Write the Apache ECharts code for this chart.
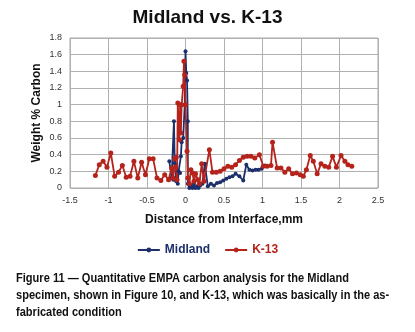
<!DOCTYPE html>
<html><head><meta charset="utf-8">
<script src="https://cdn.jsdelivr.net/npm/echarts@6/dist/echarts.min.js"></script>
<style>html,body{margin:0;padding:0;background:#fff}#c{width:415px;height:332px}</style>
</head><body><div id="c"></div>
<script>
var titleText = 'Midland vs. K-13';
var xTicks = [-1.5, 2.5, 0.5];
var yTicks = [0, 1.8, 0.2];
var midland = [[-0.21,0.32],[-0.18,0.12],[-0.16,0.1],[-0.15,0.8],[-0.14,0.3],[-0.12,0.08],[-0.1,0.05],[-0.09,0.2],[-0.07,0.18],[-0.06,0.38],[-0.05,0.55],[-0.03,0.6],[-0.01,1.0],[0.0,1.64],[0.01,1.38],[0.02,1.29],[0.03,0.8],[0.03,0.05],[0.05,0.0],[0.07,0.03],[0.09,0.0],[0.11,0.05],[0.13,0.0],[0.15,0.02],[0.17,0.0],[0.19,0.03],[0.22,0.05],[0.25,0.29],[0.29,0.02],[0.33,0.05],[0.37,0.03],[0.41,0.06],[0.45,0.07],[0.49,0.09],[0.53,0.11],[0.57,0.13],[0.61,0.14],[0.65,0.17],[0.7,0.14],[0.75,0.09],[0.79,0.28],[0.83,0.22],[0.87,0.21],[0.91,0.22],[0.95,0.22],[0.99,0.23],[1.03,0.27]];
var k13 = [[-1.17,0.15],[-1.12,0.28],[-1.07,0.32],[-1.02,0.25],[-0.97,0.42],[-0.92,0.14],[-0.87,0.19],[-0.82,0.27],[-0.77,0.13],[-0.72,0.14],[-0.67,0.32],[-0.62,0.12],[-0.57,0.31],[-0.52,0.16],[-0.47,0.35],[-0.42,0.35],[-0.37,0.12],[-0.32,0.09],[-0.27,0.16],[-0.22,0.1],[-0.18,0.24],[-0.16,0.12],[-0.14,0.35],[-0.12,0.37],[-0.11,0.1],[-0.1,1.02],[-0.08,0.58],[-0.07,1.0],[-0.06,0.66],[-0.05,1.0],[-0.03,1.22],[-0.02,1.52],[-0.01,1.36],[0.0,1.0],[0.02,0.44],[0.03,0.12],[0.05,0.05],[0.07,0.22],[0.09,0.18],[0.11,0.08],[0.13,0.17],[0.16,0.1],[0.18,0.05],[0.21,0.29],[0.24,0.08],[0.31,0.46],[0.35,0.19],[0.4,0.19],[0.45,0.2],[0.5,0.23],[0.55,0.26],[0.6,0.25],[0.65,0.28],[0.7,0.33],[0.75,0.37],[0.8,0.38],[0.85,0.38],[0.9,0.36],[0.96,0.4],[1.01,0.26],[1.06,0.26],[1.11,0.27],[1.13,0.55],[1.19,0.24],[1.24,0.24],[1.29,0.19],[1.34,0.23],[1.39,0.17],[1.44,0.18],[1.49,0.16],[1.53,0.14],[1.57,0.22],[1.62,0.39],[1.66,0.32],[1.71,0.17],[1.76,0.29],[1.81,0.26],[1.86,0.25],[1.91,0.38],[1.96,0.25],[2.02,0.39],[2.07,0.32],[2.11,0.28],[2.16,0.26]];
var captionLines = ['Figure 11 \u2014 Quantitative EMPA carbon analysis for the Midland','specimen, shown in Figure 10, and K-13, which was basically in the as-','fabricated condition'];
var blue = '#1c2f6b', red = '#b5231b';
var font = 'Liberation Sans, Arial, sans-serif';
var chart = echarts.init(document.getElementById('c'));
var graphics = captionLines.map(function(t,i){return {type:'text',x:16,y:272+i*17,scaleX:0.885,
  style:{text:t,font:'bold 12.5px "Liberation Sans", Arial',fill:'#111',textVerticalAlign:'top'}};});
chart.setOption({
  animation:false,
  backgroundColor:'#fff',
  title:{text:titleText,left:'center',top:3,textStyle:{fontFamily:font,fontWeight:'bold',fontSize:19,color:'#111'}},
  grid:{left:70,right:37,top:38,bottom:144,show:true,borderColor:'#a8a8a8',borderWidth:1},
  legend:{bottom:71,left:'center',itemWidth:22,itemHeight:6,itemGap:14,
    textStyle:{fontFamily:font,fontWeight:'bold',fontSize:12},
    data:[{name:'Midland',textStyle:{color:blue}},{name:'K-13',textStyle:{color:red}}]},
  xAxis:{type:'value',min:xTicks[0],max:xTicks[1],interval:xTicks[2],
    name:'Distance from Interface,mm',nameLocation:'middle',nameGap:26,nameMoveOverlap:false,
    nameTextStyle:{fontFamily:font,fontWeight:'bold',fontSize:12,color:'#111'},
    axisLine:{show:false},axisTick:{show:false},
    axisLabel:{fontFamily:font,fontSize:9,color:'#333',margin:8},
    splitLine:{show:true,lineStyle:{color:'#b0b0b0',width:1}}},
  yAxis:{type:'value',min:yTicks[0],max:yTicks[1],interval:yTicks[2],
    name:'Weight % Carbon',nameLocation:'middle',nameGap:27,nameMoveOverlap:false,
    nameTextStyle:{fontFamily:font,fontWeight:'bold',fontSize:12,color:'#111'},
    axisLine:{show:false},axisTick:{show:false},
    axisLabel:{fontFamily:font,fontSize:9,color:'#333',margin:8},
    splitLine:{show:true,lineStyle:{color:'#b0b0b0',width:1}}},
  series:[
    {name:'Midland',type:'line',data:midland,symbol:'circle',symbolSize:4,
     lineStyle:{color:blue,width:1.8},itemStyle:{color:blue}},
    {name:'K-13',type:'line',data:k13,symbol:'circle',symbolSize:5,
     lineStyle:{color:red,width:1.8},itemStyle:{color:red}}
  ],
  graphic:graphics
});
</script></body></html>
